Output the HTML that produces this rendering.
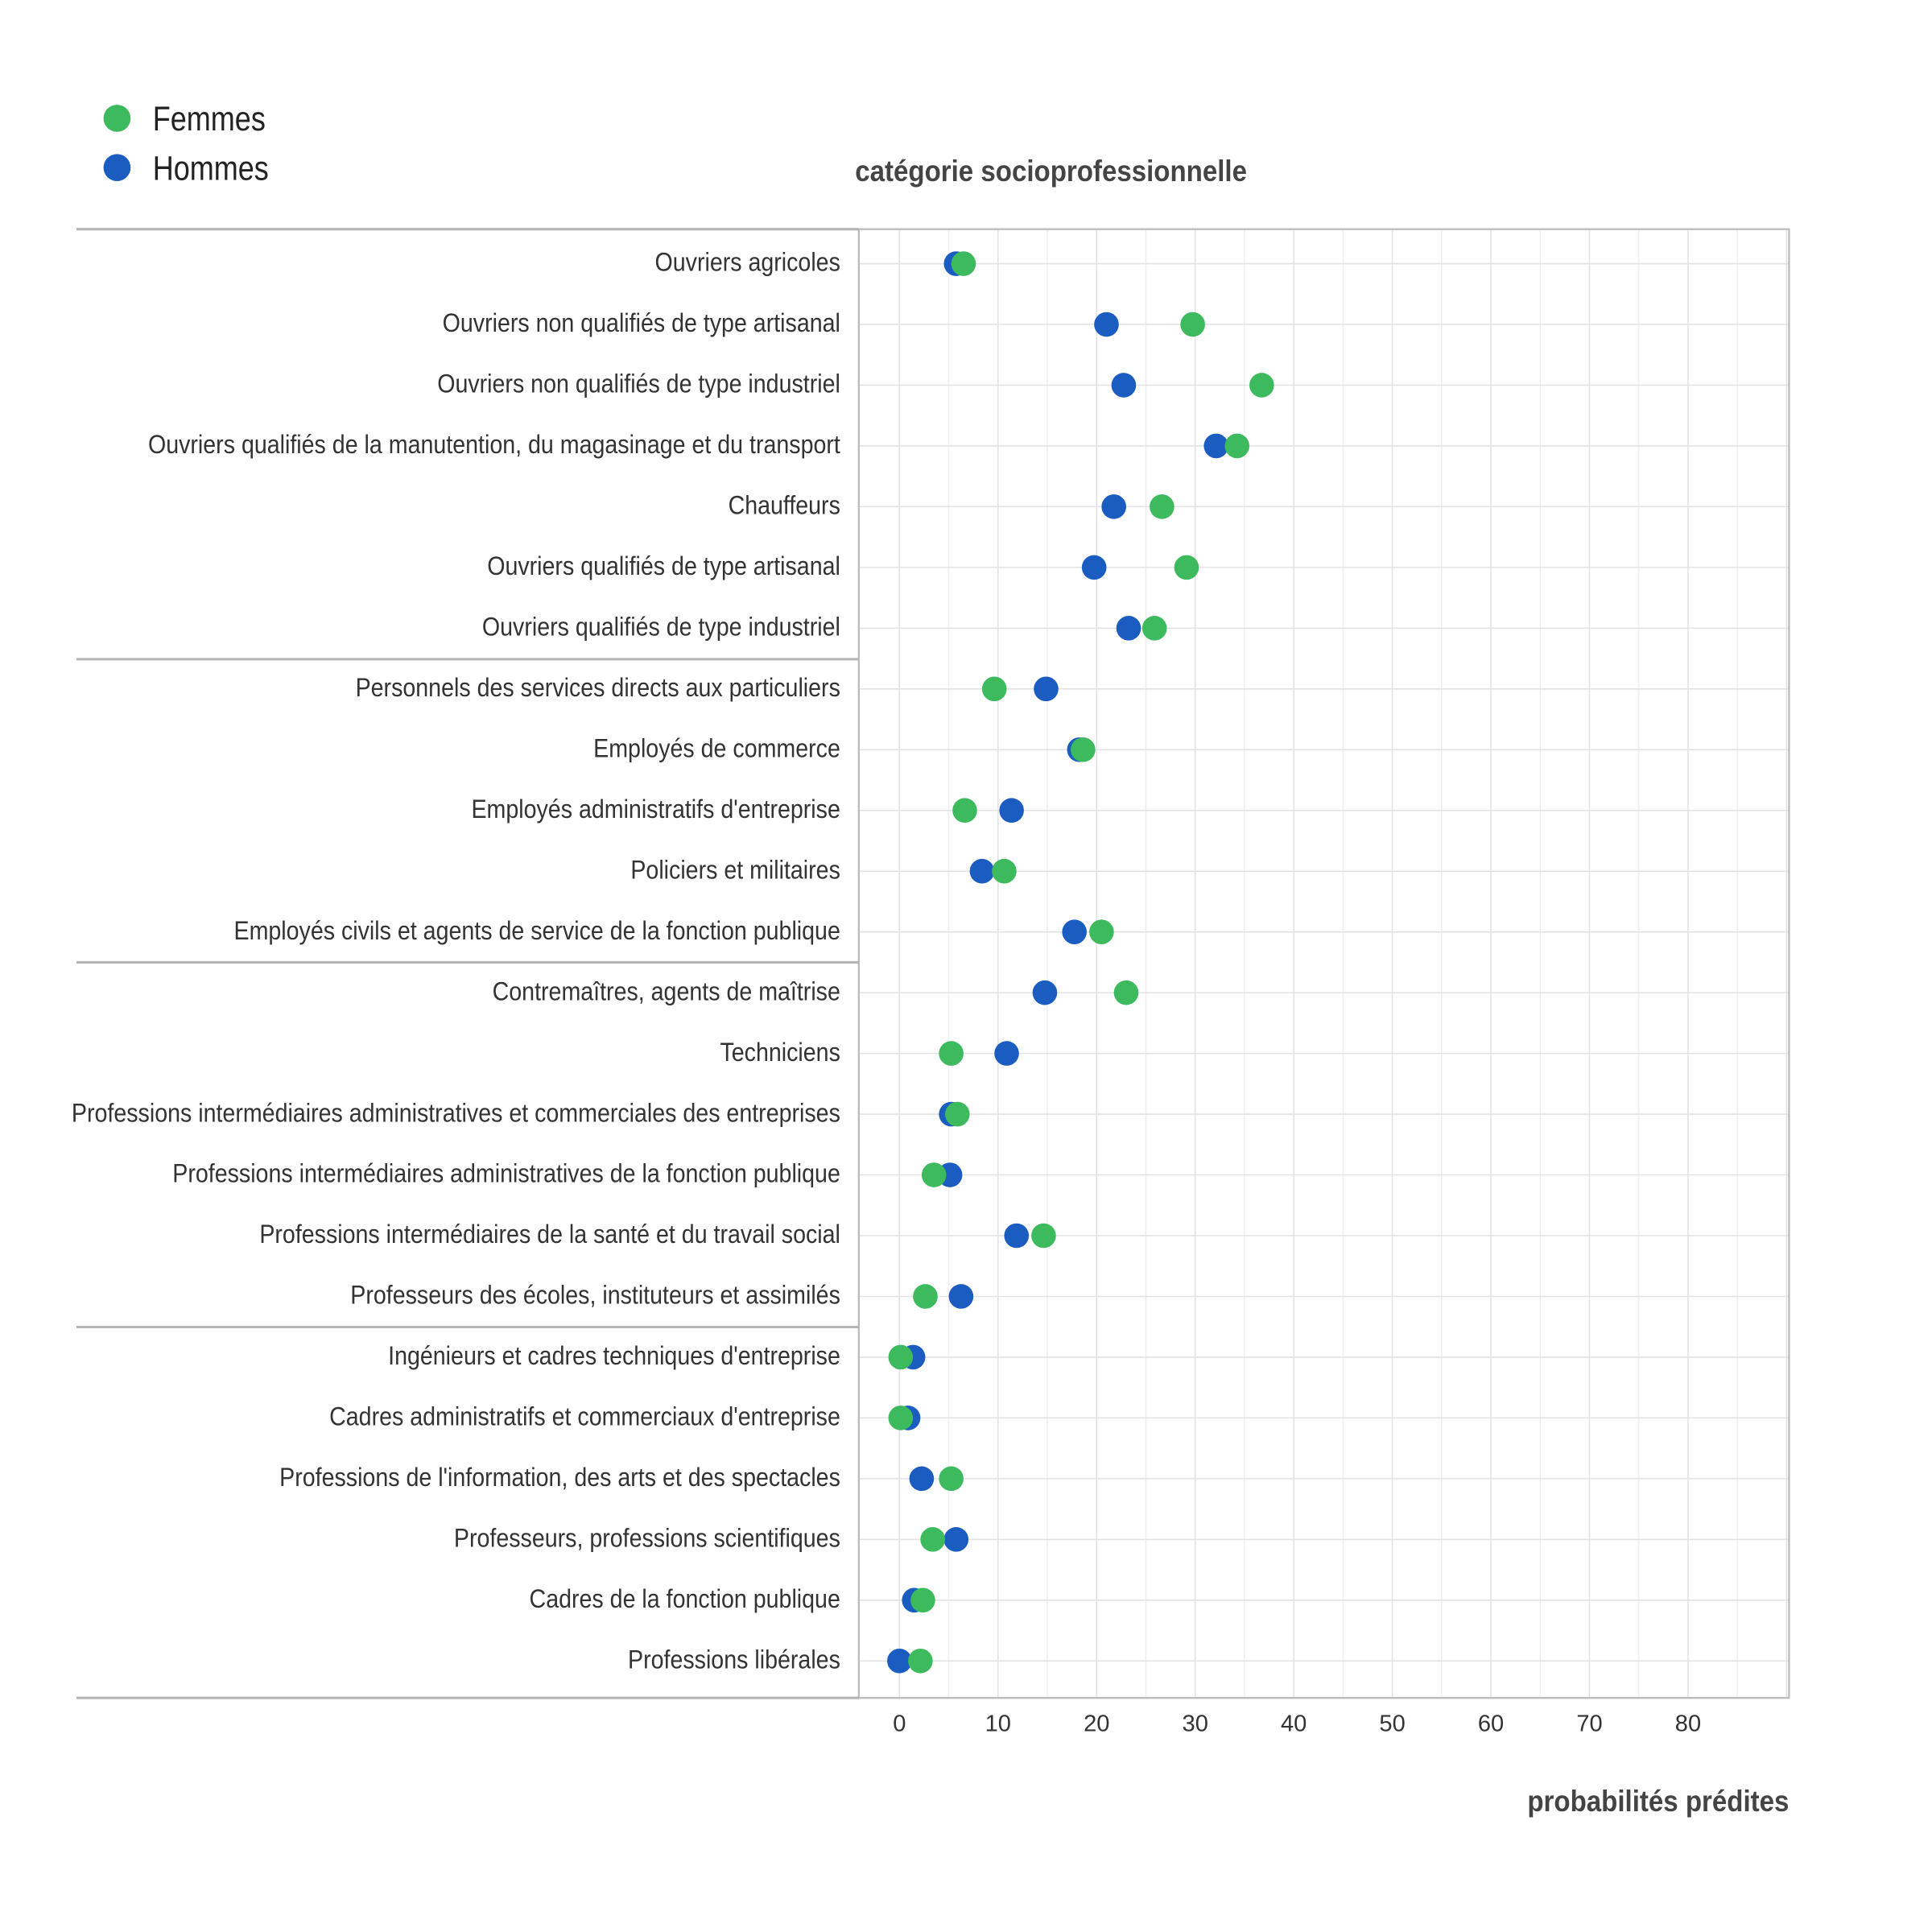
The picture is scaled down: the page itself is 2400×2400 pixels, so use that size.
<!DOCTYPE html>
<html><head><meta charset="utf-8"><style>
html,body{margin:0;padding:0;background:#fff}
svg{display:block}
text{font-family:"Liberation Sans",sans-serif;fill:#333}
.l{font-size:21px;text-anchor:end}
.t{font-size:19px;text-anchor:middle}
</style></head><body>
<svg width="2400" height="2400" viewBox="0 0 1568 1568" xmlns="http://www.w3.org/2000/svg">
<rect width="1568" height="1568" fill="#fff"/>
<circle cx="95" cy="96" r="11" fill="#3dba5e"/>
<circle cx="95" cy="136" r="11" fill="#1a5cc0"/>
<text x="124" y="106" style="font-size:28px;fill:#222">Femmes</text>
<text x="124" y="146" style="font-size:28px;fill:#222">Hommes</text>
<text x="853" y="147" style="font-size:24px;font-weight:bold;text-anchor:middle;fill:#444">catégorie socioprofessionnelle</text>
<text x="1452" y="1470" style="font-size:24px;font-weight:bold;text-anchor:end;fill:#444">probabilités prédites</text>
</svg>
<script>
var ns="http://www.w3.org/2000/svg",svg=document.querySelector('svg');
function el(t,a,p){var e=document.createElementNS(ns,t);for(var k in a)e.setAttribute(k,a[k]);(p||svg).appendChild(e);return e;}
var X=function(v){return 730+8*v};
var rows=[["Ouvriers agricoles",776,782],["Ouvriers non qualifiés de type artisanal",898,968],["Ouvriers non qualifiés de type industriel",912,1024],["Ouvriers qualifiés de la manutention, du magasinage et du transport",987,1004],["Chauffeurs",904,943],["Ouvriers qualifiés de type artisanal",888,963],["Ouvriers qualifiés de type industriel",916,937],["Personnels des services directs aux particuliers",849,807],["Employés de commerce",876,879],["Employés administratifs d'entreprise",821,783],["Policiers et militaires",797,815],["Employés civils et agents de service de la fonction publique",872,894],["Contremaîtres, agents de maîtrise",848,914],["Techniciens",817,772],["Professions intermédiaires administratives et commerciales des entreprises",772,777],["Professions intermédiaires administratives de la fonction publique",771,758],["Professions intermédiaires de la santé et du travail social",825,847],["Professeurs des écoles, instituteurs et assimilés",780,751],["Ingénieurs et cadres techniques d'entreprise",741,731],["Cadres administratifs et commerciaux d'entreprise",737,731],["Professions de l'information, des arts et des spectacles",748,772],["Professeurs, professions scientifiques",776,757],["Cadres de la fonction publique",742,749],["Professions libérales",730,747]];
var step=(1348-214)/23;
for(var v=0;v<=90;v+=5){el('line',{x1:X(v),x2:X(v),y1:186,y2:1378,stroke:v%10?'#efefef':'#e2e2e2','stroke-width':1});}
rows.forEach(function(r,i){var y=214+i*step;el('line',{x1:697,x2:1452,y1:y,y2:y,stroke:'#e2e2e2','stroke-width':1});});
el('rect',{x:697,y:186,width:755,height:1192,fill:'none',stroke:'#bbb','stroke-width':1.5});
[186,535,781,1077,1378].forEach(function(y){el('line',{x1:62,x2:697,y1:y,y2:y,stroke:'#b5b5b5','stroke-width':2});});
for(var v=0;v<=80;v+=10){var t=el('text',{x:X(v),y:1405,'class':'t'});t.textContent=v;}
rows.forEach(function(r,i){var y=214+i*step;var t=el('text',{x:682,y:y+6,'class':'l'});t.textContent=r[0];
el('circle',{cx:r[1],cy:y,r:10,fill:'#1a5cc0'});el('circle',{cx:r[2],cy:y,r:10,fill:'#3dba5e'});});
var ts=svg.querySelectorAll('text');
for(var i=0;i<ts.length;i++){var t=ts[i];var L=t.getComputedTextLength();var c=t.getAttribute('class');
var f=c=='t'?0.95:(c=='l'?0.89:(t.textContent.length<8?0.84:0.9));
if(t.textContent.length>2){t.setAttribute('textLength',(L*f).toFixed(1));t.setAttribute('lengthAdjust','spacingAndGlyphs');}}
</script>
</body></html>
